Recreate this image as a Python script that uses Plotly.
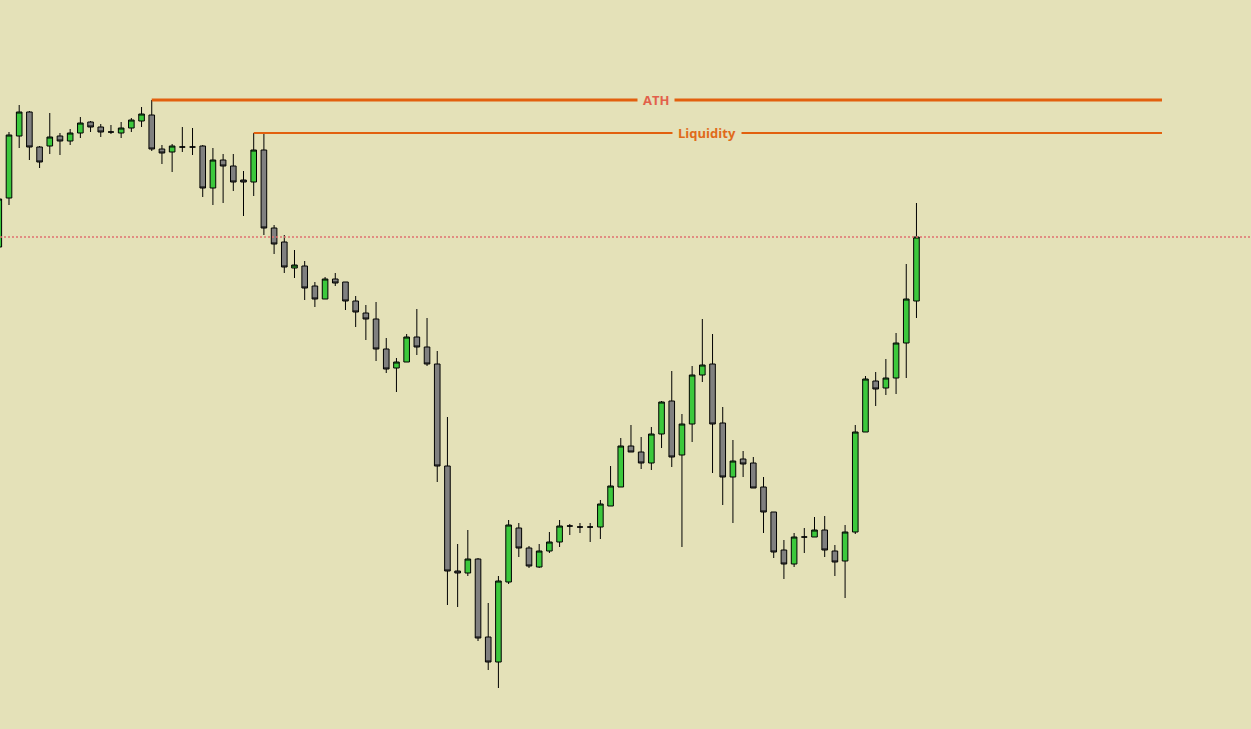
import plotly.graph_objects as go

# candle values (arbitrary price units)
opens = [753, 802, 864, 888, 853, 854, 864, 859, 867, 878, 873, 868, 867, 872, 879, 885,
         851, 848, 853, 853, 854, 812, 840, 834, 820, 818, 850, 772, 758, 732, 734, 714,
         701, 721, 718, 699, 687, 681, 651, 632, 638, 663, 653, 636, 534, 429, 427, 441,
         363, 338, 418, 472, 452, 433, 449, 458, 474, 473, 473, 473, 494, 513, 554, 548,
         537, 566, 599, 545, 576, 625, 636, 577, 523, 541, 537, 513, 488, 450, 436, 463,
         463, 470, 449, 439, 468, 568, 619, 612, 622, 657, 699]
highs = [803, 868, 895, 889, 854, 887, 867, 871, 883, 879, 876, 875, 878, 882, 893, 900,
         855, 856, 873, 872, 855, 852, 846, 846, 829, 867, 867, 775, 765, 750, 739, 718,
         723, 727, 718, 704, 695, 698, 662, 642, 666, 691, 682, 649, 583, 456, 470, 442,
         397, 424, 480, 477, 454, 456, 468, 480, 476, 477, 477, 500, 534, 562, 575, 563,
         573, 599, 629, 586, 634, 681, 666, 593, 560, 549, 543, 523, 488, 460, 467, 472,
         483, 484, 455, 475, 575, 624, 628, 641, 667, 736, 797]
lows = [750, 795, 852, 840, 832, 846, 845, 855, 862, 868, 863, 866, 862, 868, 873, 849,
        836, 828, 848, 845, 803, 795, 797, 809, 784, 804, 765, 746, 727, 722, 700, 693,
        701, 714, 690, 673, 660, 639, 627, 608, 638, 645, 634, 518, 395, 393, 424, 359,
        330, 312, 416, 443, 432, 432, 447, 453, 465, 467, 458, 461, 494, 513, 548, 531,
        530, 552, 533, 453, 558, 618, 527, 495, 477, 523, 512, 467, 442, 421, 433, 447,
        463, 443, 424, 402, 466, 568, 594, 605, 606, 622, 682]
closes = [801, 865, 888, 853, 838, 863, 859, 867, 877, 873, 868, 868, 872, 880, 886, 851,
          847, 854, 853, 853, 812, 840, 834, 818, 818, 850, 772, 756, 733, 735, 712, 701,
          721, 717, 699, 688, 681, 651, 631, 638, 663, 653, 636, 534, 429, 427, 441, 362,
          338, 419, 475, 452, 434, 449, 458, 474, 474, 473, 473, 496, 514, 554, 548, 537,
          566, 598, 543, 576, 625, 635, 576, 523, 539, 536, 512, 488, 448, 436, 463, 463,
          470, 450, 438, 468, 568, 621, 611, 622, 657, 701, 763]

ath_start = 15      # candle that printed the all-time high
liq_start = 25      # candle that left the liquidity high
line_end = 114.08

BG = "#E4E1B8"
x = list(range(len(opens)))

fig = go.Figure()

fig.add_trace(go.Candlestick(
    x=x, open=opens, high=highs, low=lows, close=closes,
    increasing=dict(fillcolor="#3CC83C", line=dict(color="black", width=1)),
    decreasing=dict(fillcolor="#808080", line=dict(color="black", width=1)),
    whiskerwidth=0,
    hoverinfo="skip",
))

ath = max(highs)
liquidity = highs[liq_start]
last_close = closes[-1]

# ATH / liquidity levels
fig.add_shape(type="line", x0=ath_start, x1=line_end, y0=ath, y1=ath,
              line=dict(color="#E2600E", width=3))
fig.add_shape(type="line", x0=liq_start, x1=line_end, y0=liquidity, y1=liquidity,
              line=dict(color="#E2600E", width=2))
# current price
fig.add_shape(type="line", xref="paper", x0=0, x1=1, y0=last_close, y1=last_close,
              line=dict(color="#E07070", width=1.5, dash="2px,2px"))

fig.add_annotation(x=64.46, y=ath, text="<b>ATH</b>", showarrow=False,
                   font=dict(family="Open Sans", size=13, color="#E2604A"),
                   bgcolor=BG, borderpad=5)
fig.add_annotation(x=69.46, y=liquidity, text="<b>Liquidity</b>", showarrow=False,
                   font=dict(family="Open Sans", size=13, color="#E06A1A"),
                   bgcolor=BG, borderpad=5)

fig.update_layout(
    width=1251, height=729,
    margin=dict(l=0, r=0, t=0, b=0),
    paper_bgcolor=BG, plot_bgcolor=BG,
    showlegend=False,
    boxgap=0.45, boxgroupgap=0,
    xaxis=dict(visible=False, range=[0.118, 122.81], rangeslider=dict(visible=False)),
    yaxis=dict(visible=False, range=[271, 1000]),
)

fig.write_html("out.html", config={"displayModeBar": False},
               post_script="document.body.style.margin='0';document.body.style.overflow='hidden';")
